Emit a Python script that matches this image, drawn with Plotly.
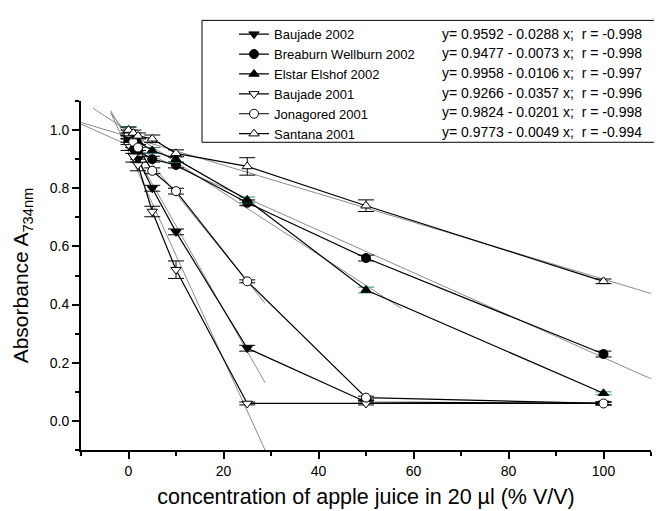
import plotly.graph_objects as go

# ---- data ----
concentration = [0, 1, 2, 5, 10, 25, 50, 100]

series_names = ["Baujade 2002", "Breaburn Wellburn 2002", "Elstar Elshof 2002",
                "Baujade 2001", "Jonagored 2001", "Santana 2001"]

baujade_2002 = [0.97, 0.93, 0.90, 0.80, 0.65, 0.25, 0.065, 0.06]
breaburn_2002 = [0.96, 0.94, 0.93, 0.90, 0.88, 0.75, 0.56, 0.23]
elstar_2002 = [1.00, 0.98, 0.96, 0.93, 0.90, 0.76, 0.45, 0.095]
baujade_2001 = [0.95, 0.91, 0.88, 0.72, 0.52, 0.06, 0.06, 0.06]
jonagored_2001 = [0.99, 0.96, 0.94, 0.86, 0.79, 0.48, 0.08, 0.06]
santana_2001 = [1.00, 0.99, 0.98, 0.97, 0.92, 0.875, 0.74, 0.48]

err_baujade_2002 = [0.012, 0.01, 0.01, 0.01, 0.01, 0.01, 0.005, 0.005]
err_breaburn_2002 = [0.01, 0.01, 0.01, 0.01, 0.01, 0.01, 0.01, 0.01]
err_elstar_2002 = [0.012, 0.01, 0.01, 0.01, 0.01, 0.01, 0.01, 0.005]
err_baujade_2001 = [0.02, 0.02, 0.02, 0.018, 0.03, 0.005, 0.005, 0.005]
err_jonagored_2001 = [0.01, 0.01, 0.01, 0.01, 0.01, 0.005, 0.005, 0.005]
err_santana_2001 = [0.01, 0.01, 0.01, 0.013, 0.012, 0.03, 0.02, 0.008]

fit_intercept = [0.9592, 0.9477, 0.9958, 0.9266, 0.9824, 0.9773]
fit_slope = [-0.0288, -0.0073, -0.0106, -0.0357, -0.0201, -0.0049]
fit_r = [-0.998, -0.998, -0.997, -0.996, -0.998, -0.994]
fit_xmin = [-3.75, -10, -7.5, -3.75, -3.75, -10]
fit_xmax = [28.75, 110, 57.5, 28.75, 28.75, 110]

x_tick_values = [0, 20, 40, 60, 80, 100]
y_tick_values = [0.0, 0.2, 0.4, 0.6, 0.8, 1.0]

values = [baujade_2002, breaburn_2002, elstar_2002, baujade_2001, jonagored_2001, santana_2001]
errors = [err_baujade_2002, err_breaburn_2002, err_elstar_2002, err_baujade_2001,
          err_jonagored_2001, err_santana_2001]

# ---- styles ----
symbols = ["triangle-down", "circle", "triangle-up", "triangle-down", "circle", "triangle-up"]
fills = ["black", "black", "black", "white", "white", "white"]
err_colors = ["black", "black", "#2a8f8f", "black", "black", "black"]
FONT = "Liberation Sans, Arial, sans-serif"

fig = go.Figure()

# fitted regression lines (grey)
for i in range(6):
    xs = [fit_xmin[i], fit_xmax[i]]
    ys = [fit_intercept[i] + fit_slope[i] * x for x in xs]
    fig.add_trace(go.Scatter(x=xs, y=ys, mode="lines", showlegend=False,
                             line=dict(color="#8c8c8c", width=1), hoverinfo="skip"))

# data series
for i in range(6):
    fig.add_trace(go.Scatter(
        x=concentration, y=values[i], name=series_names[i], mode="lines+markers",
        line=dict(color="black", width=1.2),
        marker=dict(symbol=symbols[i], size=9, color=fills[i],
                    line=dict(color="black", width=1)),
        error_y=dict(type="data", array=errors[i], visible=True,
                     color=err_colors[i], thickness=1, width=8),
    ))

# The page body has an 8px default margin, so the figure is drawn offset by 8px.
OFF = 8
W, H = 662 - OFF, 511 - OFF
# plot area in page pixels
P_LEFT, P_TOP, P_RIGHT, P_BOTTOM = 81, 95, 651, 450
PW, PH = P_RIGHT - P_LEFT, P_BOTTOM - P_TOP


def px_x(px):
    return (px - P_LEFT) / PW


def px_y(py):
    return (P_BOTTOM - py) / PH


row0, row_gap = 26.75, 19.9
annotations = []
for i in range(6):
    eq = "y= %.4f - %.4f x;  r = %.3f" % (fit_intercept[i], -fit_slope[i], fit_r[i])
    annotations.append(dict(
        x=px_x(440), y=px_y(row0 + row_gap * i), xref="paper", yref="paper",
        xanchor="left", yanchor="middle", text=eq, showarrow=False,
        font=dict(family=FONT, size=14, color="black")))

fig.update_layout(
    width=W, height=H,
    margin=dict(l=P_LEFT - OFF, r=662 - P_RIGHT, t=P_TOP - OFF, b=511 - P_BOTTOM),
    plot_bgcolor="white", paper_bgcolor="white",
    font=dict(family=FONT, size=14, color="black"),
    showlegend=True,
    legend=dict(x=px_x(234), y=px_y(11.8), xanchor="left", yanchor="top",
                bgcolor="rgba(0,0,0,0)", borderwidth=0,
                font=dict(family=FONT, size=13, color="black")),
    annotations=annotations,
    shapes=[dict(type="rect", xref="paper", yref="paper",
                 x0=px_x(202), x1=px_x(661), y0=px_y(137), y1=px_y(13),
                 line=dict(color="black", width=1))],
    xaxis=dict(range=[-10, 110], tickvals=x_tick_values, ticks="outside", ticklen=7,
               tickwidth=1.5, tickcolor="black", showline=True, linewidth=2,
               linecolor="black", showgrid=False, zeroline=False, automargin=False,
               minor=dict(dtick=10, tick0=0, ticks="outside", ticklen=4, tickwidth=1.5,
                          tickcolor="black", showgrid=False),
               tickfont=dict(size=14),
               title=dict(text="concentration of apple juice in 20 µl (% V/V)",
                          font=dict(size=21.5), standoff=11)),
    yaxis=dict(range=[-0.1, 1.1], tickvals=y_tick_values, tickformat=".1f",
               ticks="outside", ticklen=7, tickwidth=1.5, tickcolor="black",
               showline=True, linewidth=2, linecolor="black", showgrid=False,
               zeroline=False, automargin=False,
               minor=dict(dtick=0.1, tick0=0, ticks="outside", ticklen=4, tickwidth=1.5,
                          tickcolor="black", showgrid=False),
               tickfont=dict(size=14),
               title=dict(text="Absorbance A<sub>734nm</sub>", font=dict(size=21),
                          standoff=15)),
)

fig.write_html("out.html")
